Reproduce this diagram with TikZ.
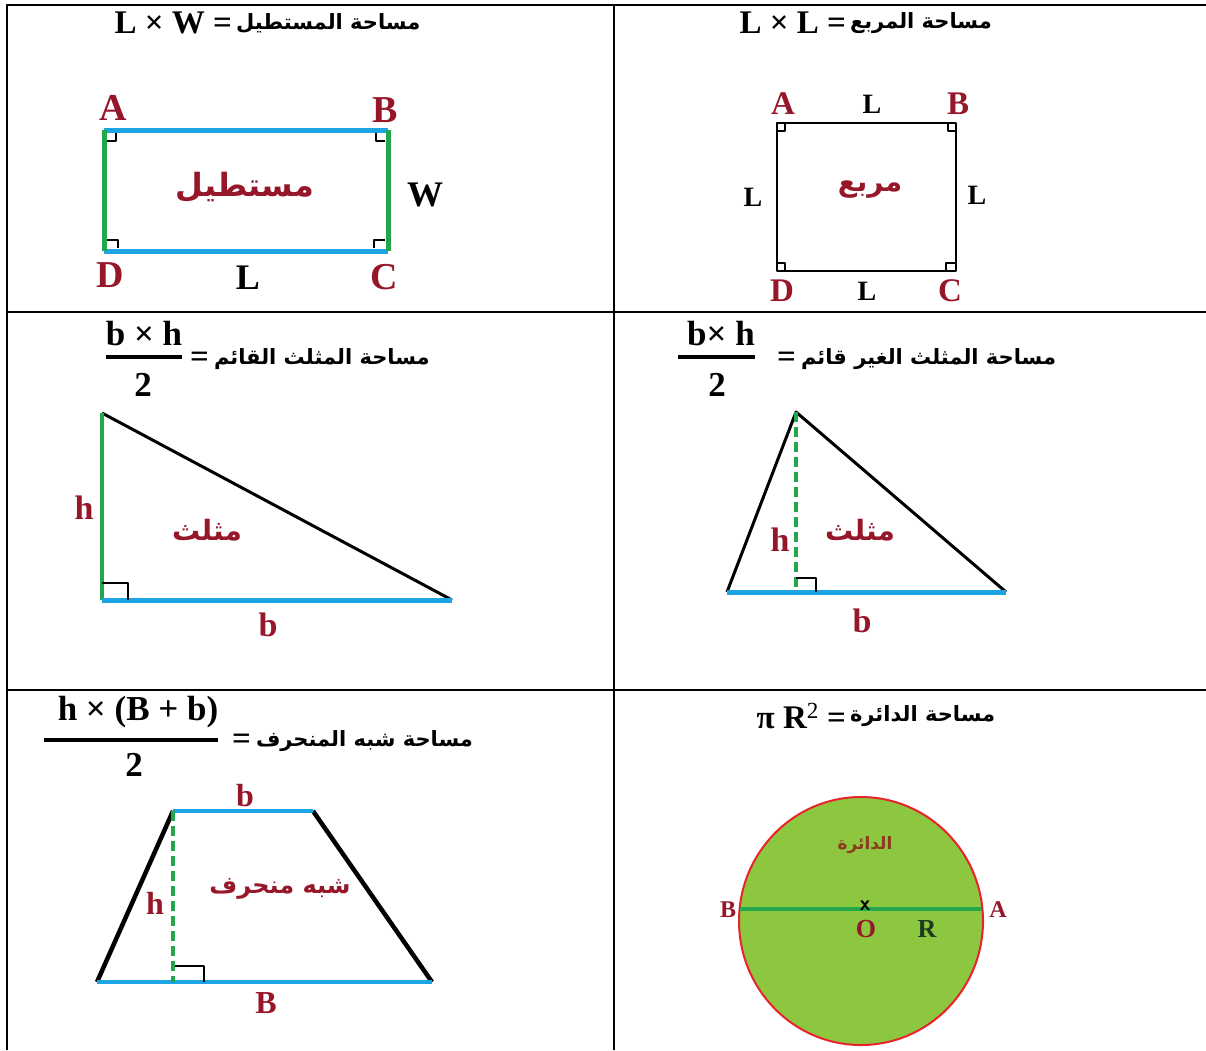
\documentclass[tikz,border=0pt]{standalone}
\usepackage{fontspec}
\setmainfont{Liberation Serif}
\newfontfamily\arabicfont[Script=Arabic]{DejaVu Sans}
\TeXXeTstate=1
\usepackage{tikz}
\usetikzlibrary{calc}
\usepackage{xcolor}
\definecolor{lblred}{HTML}{96162A}
\definecolor{edgeblue}{HTML}{1CA4E3}
\definecolor{edgegreen}{HTML}{22A84A}
\definecolor{discfill}{HTML}{8DC63F}
\definecolor{discred}{HTML}{E8232A}
\definecolor{rgreen}{HTML}{1E3A1E}
\definecolor{discbrown}{HTML}{8A3B1E}

\begin{document}
\begin{tikzpicture}[
  x=1pt,y=-1pt,
  line join=round,
  every node/.style={inner sep=0pt,outer sep=0pt},
  ttl/.style={font=\arabicfont\bfseries\fontsize{21}{25}\selectfont,anchor=west},
  frm/.style={font=\bfseries\fontsize{33}{36}\selectfont},
  frac/.style={font=\bfseries\fontsize{35}{38}\selectfont},
  fracbar/.style={line width=3.5pt},
  redlbl/.style={text=lblred,font=\bfseries\fontsize{38}{40}\selectfont},
  blklbl/.style={font=\bfseries\fontsize{36}{40}\selectfont},
  arlbl/.style={text=lblred,font=\arabicfont\bfseries\fontsize{28}{32}\selectfont},
  blueside/.style={edgeblue,line width=5pt},
  greenside/.style={edgegreen,line width=5pt},
  blackside/.style={black,line width=3pt},
  hdash/.style={edgegreen,line width=3.5pt,dash pattern=on 10pt off 5pt},
  rmark/.style={black,line width=1.8pt}
]
\useasboundingbox (0,0) rectangle (1206,1050);

% table
\draw[line width=2.5pt] (7,1050) -- (7,5) -- (1206,5);
\draw[line width=2.5pt] (614,5) -- (614,1050);
\draw[line width=2.5pt] (7,312) -- (1206,312);
\draw[line width=2.5pt] (7,690) -- (1206,690);

% rectangle
\node[ttl] (t1) at (236,23) {\beginR مساحة المستطيل\endR};
\node[frm,anchor=east] (f1) at ([xshift=-4pt]t1.west) {L × W =};
\coordinate (rA) at (104,130);
\coordinate (rB) at (388,130);
\coordinate (rC) at (388,251);
\coordinate (rD) at (104,251);
\draw[blueside] (rA) -- (rB);
\draw[blueside] (rD) -- (rC);
\draw[greenside] (rA) -- (rD);
\draw[greenside] (rB) -- (rC);
\draw[rmark] ($(rA)+(3,11)$) -| ($(rA)+(12,3)$);
\draw[rmark] ($(rB)+(-3,11)$) -| ($(rB)+(-12,3)$);
\draw[rmark] ($(rD)+(3,-11)$) -| ($(rD)+(14,-3)$);
\draw[rmark] ($(rC)+(-3,-11)$) -| ($(rC)+(-14,-3)$);
\node[redlbl] (lA) at (113,108) {A};
\node[redlbl] (lB) at (385,110) {B};
\node[redlbl] (lD) at (110,275) {D};
\node[redlbl] (lC) at (384,277) {C};
\node[blklbl] (lL) at (248,278) {L};
\node[blklbl] (lW) at (425,195) {W};
\node[arlbl,font=\arabicfont\bfseries\fontsize{32}{36}\selectfont] (rname) at (245,187) {\beginR مستطيل\endR};

% square
\node[ttl] (t2) at (850,23) {\beginR مساحة المربع\endR};
\node[frm,anchor=east] (f2) at ([xshift=-4pt]t2.west) {L × L =};
\coordinate (sA) at (777,123);
\coordinate (sB) at (956,123);
\coordinate (sC) at (956,271);
\coordinate (sD) at (777,271);
\draw[black,line width=2.5pt] (sA) -- (sB) -- (sC) -- (sD) -- cycle;
\draw[rmark] ($(sA)+(0,8)$) -| ($(sA)+(8,0)$);
\draw[rmark] ($(sB)+(0,8)$) -| ($(sB)+(-8,0)$);
\draw[rmark] ($(sD)+(0,-8)$) -| ($(sD)+(8,0)$);
\draw[rmark] ($(sC)+(0,-8)$) -| ($(sC)+(-10,0)$);
\node[redlbl,font=\bfseries\fontsize{33}{36}\selectfont] (qA) at (783,104) {A};
\node[redlbl,font=\bfseries\fontsize{33}{36}\selectfont] (qB) at (958,104) {B};
\node[redlbl,font=\bfseries\fontsize{33}{36}\selectfont] (qD) at (782,291) {D};
\node[redlbl,font=\bfseries\fontsize{33}{36}\selectfont] (qC) at (950,291) {C};
\node[blklbl,font=\bfseries\fontsize{28}{32}\selectfont] (qLt) at (872,104) {L};
\node[blklbl,font=\bfseries\fontsize{28}{32}\selectfont] (qLb) at (867,291) {L};
\node[blklbl,font=\bfseries\fontsize{28}{32}\selectfont] (qLl) at (753,197) {L};
\node[blklbl,font=\bfseries\fontsize{28}{32}\selectfont] (qLr) at (977,195) {L};
\node[arlbl] (sname) at (870,190) {\beginR مربع\endR};

% right triangle
\node[frac] (n3) at (144,334) {b × h};
\node[frac] (d3) at (143,385) {2};
\draw[fracbar] (n3.west |- 0,357) -- (n3.east |- 0,357);
\node[frm,anchor=west] (e3) at (190,360) {=};
\node[ttl] (t3) at (214,359) {\beginR مساحة المثلث القائم\endR};
\coordinate (pT) at (102,413);
\coordinate (pR) at (102,600);
\coordinate (pE) at (452,600);
\draw[blackside] (pT) -- (pE);
\draw[greenside,line width=4pt] (pT) -- (pR);
\draw[blueside] (pR) -- (pE);
\draw[rmark] ($(pR)+(0,-17)$) -| ($(pR)+(26,0)$);
\node[redlbl,font=\bfseries\fontsize{34}{36}\selectfont] (ph) at (84,508) {h};
\node[redlbl,font=\bfseries\fontsize{34}{36}\selectfont] (pb) at (268,625) {b};
\node[arlbl] (pname) at (207,530) {\beginR مثلث\endR};

% general triangle
\node[frac] (n4) at (721,334) {b× h};
\node[frac] (d4) at (717,385) {2};
\draw[fracbar] (678,357) -- (n4.east |- 0,357);
\node[frm,anchor=west] (e4) at (777,360) {=};
\node[ttl] (t4) at (801,359) {\beginR مساحة المثلث الغير قائم\endR};
\coordinate (gT) at (796,412);
\coordinate (gL) at (727,592);
\coordinate (gR) at (1006,592);
\coordinate (gF) at (796,592);
\draw[blackside] (gL) -- (gT) -- (gR);
\draw[hdash] (gT) -- (gF);
\draw[blueside] (gL) -- (gR);
\draw[rmark] ($(gF)+(0,-14)$) -| ($(gF)+(20,0)$);
\node[redlbl,font=\bfseries\fontsize{34}{36}\selectfont] (gh) at (780,540) {h};
\node[redlbl,font=\bfseries\fontsize{34}{36}\selectfont] (gb) at (862,621) {b};
\node[arlbl] (gname) at (860,530) {\beginR مثلث\endR};

% trapezoid
\node[frac] (n5) at (138,712) {h × (B + b)};
\node[frac] (d5) at (134,765) {2};
\draw[fracbar] (44,740) -- (n5.east |- 0,740);
\node[frm,anchor=west] (e5) at (232,742) {=};
\node[ttl] (t5) at (256,741) {\beginR مساحة شبه المنحرف\endR};
\coordinate (zA) at (173,811);
\coordinate (zB) at (313,811);
\coordinate (zC) at (432,982);
\coordinate (zD) at (97,982);
\coordinate (zF) at (173,982);
\draw[blackside,line width=4.5pt] (zD) -- (zA);
\draw[blackside,line width=4.5pt] (zB) -- (zC);
\draw[blueside,line width=4pt] (zA) -- (zB);
\draw[blueside,line width=4pt] (zD) -- (zC);
\draw[rmark] ($(zF)+(0,-16)$) -| ($(zF)+(31,0)$);
\draw[hdash,line width=4.5pt] (zA) -- (zF);
\node[redlbl,font=\bfseries\fontsize{32}{36}\selectfont] (zb) at (245,796) {b};
\node[redlbl,font=\bfseries\fontsize{32}{36}\selectfont] (zh) at (155,903) {h};
\node[redlbl,font=\bfseries\fontsize{32}{36}\selectfont] (zBl) at (266,1003) {B};
\node[arlbl,font=\arabicfont\bfseries\fontsize{24}{28}\selectfont] (zname) at (280,889) {\beginR شبه منحرف\endR};

% circle
\node[ttl] (t6) at (850,716) {\beginR مساحة الدائرة\endR};
\node[frm,anchor=east] (f6) at ([xshift=-4pt]t6.west) {π R\textsuperscript{\mdseries 2} =};
\coordinate (cO) at (861,921);
\draw[discred,fill=discfill,line width=2pt] (cO) ellipse [x radius=122,y radius=124];
\coordinate (cB) at (740,909);
\coordinate (cA) at (982,909);
\draw[edgegreen,line width=3.5pt] (cB) -- (cA);
\node[font=\sffamily\bfseries\fontsize{21}{22}\selectfont] (cx) at (865,906) {x};
\node[redlbl,font=\bfseries\fontsize{24}{26}\selectfont] (cBl) at (728,910) {B};
\node[redlbl,font=\bfseries\fontsize{24}{26}\selectfont] (cAl) at (998,910) {A};
\node[redlbl,font=\bfseries\fontsize{26}{28}\selectfont] (cOl) at (866,929) {O};
\node[text=rgreen,font=\bfseries\fontsize{26}{28}\selectfont] (cR) at (927,929) {R};
\node[text=discbrown,font=\arabicfont\bfseries\fontsize{17}{20}\selectfont] (cname) at (865,845) {\beginR الدائرة\endR};
\end{tikzpicture}
\end{document}
